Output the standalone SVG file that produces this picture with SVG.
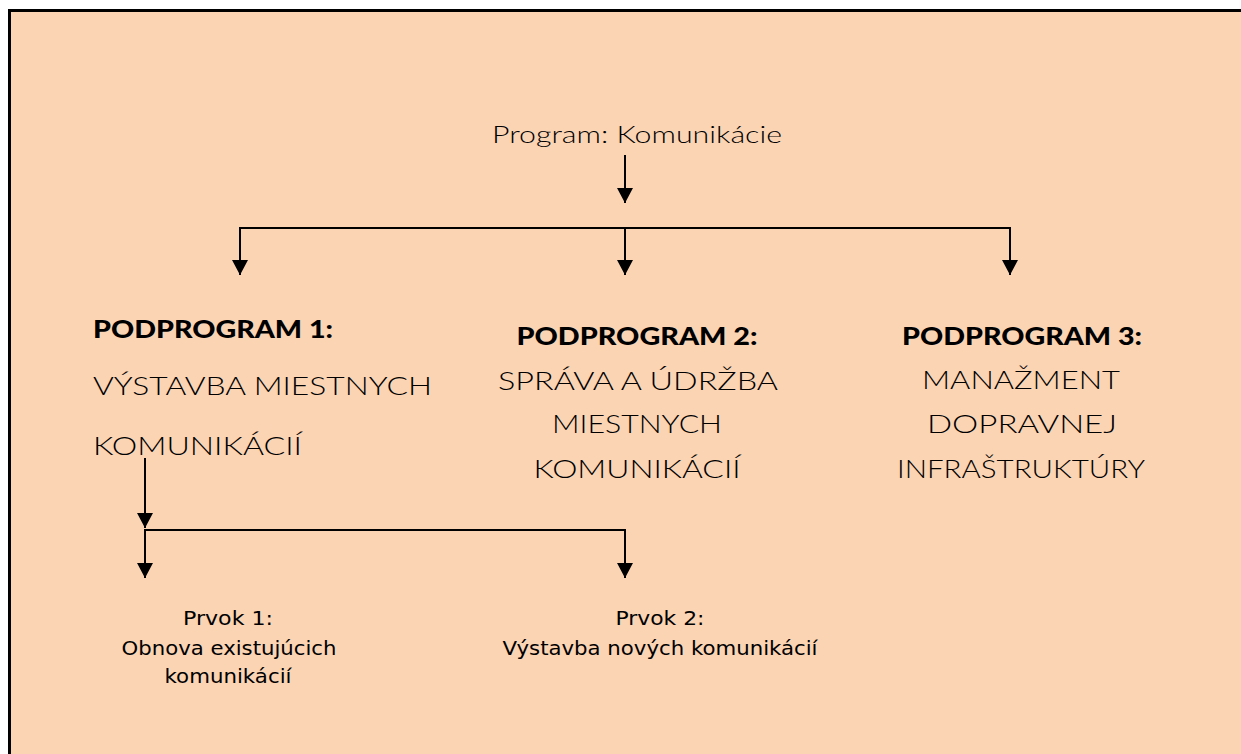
<svg xmlns="http://www.w3.org/2000/svg" width="1241" height="754" viewBox="0 0 1241 754">
<defs>
<marker id="ah" markerUnits="userSpaceOnUse" markerWidth="16" markerHeight="16" viewBox="0 0 15 16" refX="15" refY="8" orient="auto-start-reverse">
<polygon points="0,0 15,8 0,16" fill="#000"/>
</marker>
<style>
.big{font-family:Lato,"Liberation Sans",sans-serif;font-size:25px;font-weight:300;fill:#000}
.bold{font-family:Lato,"Liberation Sans",sans-serif;font-size:25px;font-weight:900;fill:#000}
.small{font-family:"DejaVu Sans",Verdana,sans-serif;font-size:19px;fill:#000}
.ln{stroke:#000;stroke-width:2;fill:none}
</style>
</defs>
<rect x="0" y="0" width="1241" height="754" fill="#fff"/>
<rect x="11" y="12" width="1230" height="742" fill="#FBD4B4"/>
<rect x="8" y="9" width="1233" height="3" fill="#000"/>
<rect x="8" y="9" width="3" height="745" fill="#000"/>
<g id="connectors">
<line class="ln" x1="625" y1="155" x2="625" y2="203" marker-end="url(#ah)"/>
<polyline class="ln" points="240,275 240,228 1010,228 1010,275" marker-start="url(#ah)" marker-end="url(#ah)"/>
<line class="ln" x1="625" y1="228" x2="625" y2="275" marker-end="url(#ah)"/>
<line class="ln" x1="145" y1="458" x2="145" y2="528" marker-end="url(#ah)"/>
<polyline class="ln" points="145,578 145,530 625,530 625,578" marker-start="url(#ah)" marker-end="url(#ah)"/>
</g>
<g id="program">
<text class="big" x="637" y="143" text-anchor="middle" style="font-size:24px" textLength="290" lengthAdjust="spacingAndGlyphs">Program: Komunikácie</text>
</g>
<g id="podprogram1">
<text class="bold" x="93" y="338" textLength="240" lengthAdjust="spacingAndGlyphs">PODPROGRAM 1:</text>
<text class="big" x="93" y="395" textLength="339" lengthAdjust="spacingAndGlyphs">VÝSTAVBA MIESTNYCH</text>
<text class="big" x="93" y="455" textLength="209" lengthAdjust="spacingAndGlyphs">KOMUNIKÁCIÍ</text>
</g>
<g id="podprogram2">
<text class="bold" x="637" y="345" text-anchor="middle" textLength="241" lengthAdjust="spacingAndGlyphs">PODPROGRAM 2:</text>
<text class="big" x="638" y="390" text-anchor="middle" textLength="280" lengthAdjust="spacingAndGlyphs">SPRÁVA A ÚDRŽBA</text>
<text class="big" x="637" y="433" text-anchor="middle" textLength="170" lengthAdjust="spacingAndGlyphs">MIESTNYCH</text>
<text class="big" x="637" y="478" text-anchor="middle" textLength="207" lengthAdjust="spacingAndGlyphs">KOMUNIKÁCIÍ</text>
</g>
<g id="podprogram3">
<text class="bold" x="1022" y="345" text-anchor="middle" textLength="240" lengthAdjust="spacingAndGlyphs">PODPROGRAM 3:</text>
<text class="big" x="1021" y="389" text-anchor="middle" textLength="198" lengthAdjust="spacingAndGlyphs">MANAŽMENT</text>
<text class="big" x="1022" y="433" text-anchor="middle" textLength="190" lengthAdjust="spacingAndGlyphs">DOPRAVNEJ</text>
<text class="big" x="1021" y="478" text-anchor="middle" textLength="248" lengthAdjust="spacingAndGlyphs">INFRAŠTRUKTÚRY</text>
</g>
<g id="prvok1">
<text class="small" x="228" y="625" text-anchor="middle" textLength="90" lengthAdjust="spacingAndGlyphs">Prvok 1:</text>
<text class="small" x="229" y="655" text-anchor="middle" textLength="215" lengthAdjust="spacingAndGlyphs">Obnova existujúcich</text>
<text class="small" x="228" y="683" text-anchor="middle" textLength="127" lengthAdjust="spacingAndGlyphs">komunikácií</text>
</g>
<g id="prvok2">
<text class="small" x="660" y="625" text-anchor="middle" textLength="89" lengthAdjust="spacingAndGlyphs">Prvok 2:</text>
<text class="small" x="660" y="655" text-anchor="middle" textLength="315" lengthAdjust="spacingAndGlyphs">Výstavba nových komunikácií</text>
</g>
</svg>
